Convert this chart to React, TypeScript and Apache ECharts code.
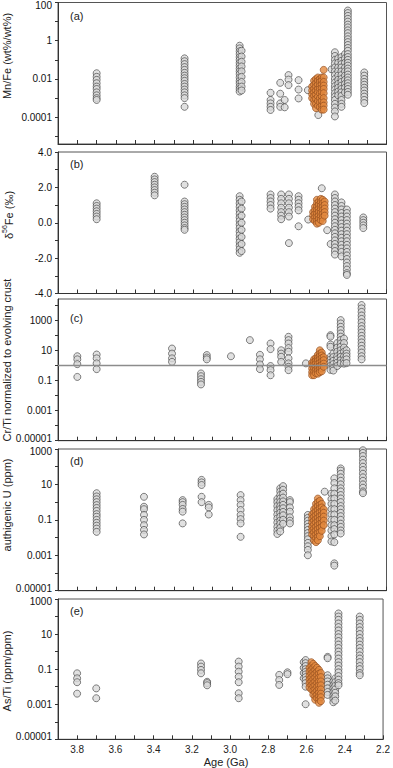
import { useEffect, useRef } from "react";
import * as echarts from "echarts";

type Col = [number, number[]];

// ---------- (a) Mn/Fe (wt%/wt%) ----------
const mnFeGray: Col[] = [
  [3.7, [0.02, 0.013, 0.009, 0.006, 0.004, 0.003, 0.002, 0.0014, 0.001, 0.0008]],
  [3.245, [0.12, 0.085, 0.06, 0.042, 0.03, 0.021, 0.015, 0.011, 0.008, 0.0055, 0.004, 0.0028, 0.002, 0.0014, 0.001, 0.00035]],
  [2.96, [0.55, 0.4, 0.28, 0.2, 0.14, 0.1, 0.07, 0.05, 0.035, 0.025, 0.018, 0.012, 0.008, 0.006, 0.004, 0.003, 0.0022]],
  [2.95, [0.3, 0.15, 0.08, 0.045, 0.025, 0.013, 0.007, 0.004, 0.0025]],
  [2.8, [0.0019, 0.0008, 0.00053, 0.00035, 0.00024]],
  [2.75, [0.0063, 0.0017, 0.00053, 0.00035]],
  [2.727, [0.0008, 0.00033]],
  [2.707, [0.016, 0.0093, 0.0048]],
  [2.655, [0.0087, 0.0028, 0.00096]],
  [2.607, [0.0026]],
  [2.553, [0.00013]],
  [2.484, [0.032]],
  [2.467, [0.25, 0.16, 0.1, 0.065, 0.04, 0.025, 0.016, 0.01, 0.0065, 0.0042, 0.0028, 0.0018, 0.0012, 0.0008, 0.0005, 0.00032, 0.0002, 0.00011]],
  [2.45, [0.12, 0.07, 0.04, 0.025, 0.015, 0.009, 0.0055, 0.0035, 0.0022, 0.0014]],
  [2.433, [0.14, 0.09, 0.06, 0.04, 0.025, 0.016, 0.01, 0.007, 0.0045, 0.003, 0.002, 0.0013, 0.0008, 0.0005, 0.00035]],
  [2.415, [0.2, 0.12, 0.07, 0.04, 0.025, 0.015, 0.009, 0.0055, 0.0035, 0.002]],
  [2.4, [38, 28, 20, 14, 10, 7, 5, 3.5, 2.5, 1.7, 1.2, 0.85, 0.6, 0.42, 0.3, 0.2, 0.14, 0.1, 0.07, 0.05, 0.035, 0.025, 0.017, 0.012, 0.0085, 0.006, 0.0042, 0.003, 0.0021, 0.0015]],
  [2.315, [0.022, 0.015, 0.01, 0.007, 0.005, 0.0035, 0.0025, 0.0017, 0.0012, 0.0008, 0.00055]],
];
const mnFeOrange: Col[] = [
  [2.585, [0.004, 0.0025, 0.0016, 0.001]],
  [2.575, [0.008, 0.005, 0.003, 0.002, 0.0013, 0.0008, 0.0005]],
  [2.565, [0.01, 0.006, 0.004, 0.0025, 0.0015, 0.0009, 0.0005, 0.0003]],
  [2.555, [0.012, 0.008, 0.005, 0.003, 0.002, 0.0012, 0.0007, 0.0004]],
  [2.545, [0.01, 0.007, 0.0045, 0.003, 0.0018, 0.001, 0.0006, 0.00035]],
  [2.535, [0.012, 0.008, 0.005, 0.0032, 0.002, 0.0012, 0.0007, 0.0004, 0.00025]],
  [2.525, [0.03, 0.012, 0.007, 0.0045, 0.003, 0.0018, 0.001, 0.0006, 0.0004, 0.00025]],
];

// ---------- (b) δ56Fe (‰) ----------
const feIsoGray: Col[] = [
  [3.7, [1.1, 0.95, 0.8, 0.65, 0.5, 0.35, 0.2]],
  [3.4, [2.6, 2.45, 2.3, 2.15, 2.0, 1.85, 1.7, 1.55]],
  [3.245, [2.15, 1.2, 1.05, 0.9, 0.75, 0.6, 0.45, 0.3, 0.15, 0.0, -0.15, -0.3, -0.4]],
  [2.96, [1.5, 1.3, 1.1, 0.9, 0.7, 0.5, 0.3, 0.1, -0.1, -0.3, -0.5, -0.7, -0.9, -1.1, -1.3, -1.5, -1.7]],
  [2.95, [1.2, 0.8, 0.4, 0.0, -0.4, -0.8, -1.2, -1.6]],
  [2.8, [1.6, 1.4, 1.2, 1.0, 0.8]],
  [2.745, [1.6, 1.35, 1.1, 0.85, 0.6, 0.4, 0.2]],
  [2.705, [1.6, 1.35, 1.1, 0.85, 0.6, 0.35, -1.15]],
  [2.655, [1.5, 1.3, 1.1, 0.9, 0.7, -0.2]],
  [2.605, [0.18]],
  [2.535, [1.95]],
  [2.507, [-0.42]],
  [2.489, [-1.2]],
  [2.467, [1.6, 1.4, 1.2, 1.0, 0.8, 0.6, 0.4, 0.2, 0.0, -0.2, -0.4, -0.6, -0.8, -1.0, -1.2, -1.4, -1.6, -1.8]],
  [2.433, [1.15, 0.95, 0.75, 0.55, 0.35, 0.15, -0.05, -0.25, -0.45, -0.65, -0.85, -1.05, -1.25, -1.45, -1.65, -1.9]],
  [2.405, [0.75, 0.55, 0.35, 0.15, -0.05, -0.25, -0.45, -0.65, -0.85, -1.05, -1.25, -1.45, -1.65, -1.85, -2.05, -2.25, -2.45, -2.65, -2.85, -2.95]],
  [2.32, [0.3, 0.15, 0.0, -0.15, -0.3]],
];
const feIsoOrange: Col[] = [
  [2.58, [0.6, 0.4, 0.2]],
  [2.57, [0.9, 0.7, 0.5, 0.3, 0.1]],
  [2.56, [1.3, 1.1, 0.9, 0.7, 0.5, 0.3, 0.1, -0.05]],
  [2.55, [1.2, 1.0, 0.8, 0.6, 0.4, 0.2, 0.0]],
  [2.54, [1.35, 1.15, 0.95, 0.75, 0.55, 0.35, 0.15]],
  [2.53, [1.3, 1.1, 0.9, 0.7, 0.5, 0.3, 0.1]],
  [2.52, [1.2, 1.0, 0.8, 0.6, 0.4]],
];

// ---------- (c) Cr/Ti normalized to evolving crust ----------
const crTiGray: Col[] = [
  [3.8, [4, 2.5, 1.2, 0.17]],
  [3.7, [5.2, 2.9, 1.35, 0.56]],
  [3.31, [13, 6, 2.9, 1.7]],
  [3.16, [0.29, 0.19, 0.12, 0.08, 0.054]],
  [3.13, [4.8, 3.3, 2.5]],
  [3.005, [4]],
  [2.907, [47]],
  [2.855, [5, 2.5, 1.15, 0.56]],
  [2.8, [28, 12, 0.9, 0.48, 0.22]],
  [2.745, [10, 6, 3.7, 1.7]],
  [2.707, [78, 47, 28, 14, 8, 2.9, 1.35, 0.8, 0.48]],
  [2.617, [1.35]],
  [2.49, [100, 80, 24, 17, 3.7, 2.4, 1.5, 0.9, 0.5]],
  [2.475, [6, 3.5, 2, 1.2, 0.7, 0.45]],
  [2.455, [30, 15, 8, 4, 2.5, 1.5, 0.9]],
  [2.437, [1000, 600, 360, 220, 130, 80, 48, 28, 17, 10, 6, 3.7, 2.2, 1.35]],
  [2.42, [60, 30, 15, 8, 4, 2.2, 1.3]],
  [2.407, [10, 6, 4, 2.5, 1.4]],
  [2.329, [10000, 6000, 3500, 2000, 1200, 700, 400, 250, 150, 90, 55, 33, 20, 12, 7, 4, 2.5]],
];
const crTiOrange: Col[] = [
  [2.585, [1.5, 1.0, 0.6, 0.35, 0.22]],
  [2.575, [2.5, 1.6, 1.0, 0.6, 0.35, 0.22]],
  [2.565, [3, 2, 1.3, 0.8, 0.5, 0.3]],
  [2.555, [5, 3, 2, 1.2, 0.7, 0.45, 0.28]],
  [2.545, [10, 6, 4, 2.5, 1.5, 0.9, 0.55, 0.35]],
  [2.535, [7, 4.5, 3, 1.8, 1.1, 0.65, 0.4]],
  [2.525, [3.5, 2.2, 1.3, 0.8]],
];
const crTiReference = [1];

// ---------- (d) authigenic U (ppm) ----------
const uAuthGray: Col[] = [
  [3.7, [3.2, 2.1, 1.45, 1.0, 0.68, 0.47, 0.32, 0.21, 0.15, 0.1, 0.068, 0.047, 0.032, 0.021]],
  [3.455, [2.0, 0.55, 0.4, 0.19, 0.1, 0.05, 0.027, 0.015]],
  [3.255, [1.3, 1.0, 0.7, 0.41, 0.29, 0.063]],
  [3.157, [18, 13, 9.3, 2.0, 1.0]],
  [3.12, [0.7, 0.5, 0.2]],
  [2.955, [2.5, 1.3, 0.7, 0.36, 0.19, 0.11, 0.063, 0.011]],
  [2.765, [1.5, 1.0, 0.6, 0.35, 0.2, 0.12, 0.07, 0.04, 0.025, 0.016]],
  [2.75, [6, 4, 2.5, 1.6, 1.0, 0.6, 0.4, 0.25, 0.15, 0.09, 0.06, 0.035, 0.022]],
  [2.735, [8, 5, 3, 1.8, 1.1, 0.7, 0.45, 0.28, 0.18, 0.1, 0.06]],
  [2.7, [1.3, 1.0, 0.5, 0.29, 0.14, 0.09, 0.063]],
  [2.607, [0.19, 0.13, 0.09, 0.06, 0.04, 0.027, 0.018, 0.012, 0.008, 0.005, 0.0032, 0.002, 0.001]],
  [2.52, [3.9]],
  [2.485, [3, 1.5, 0.8, 0.4, 0.2, 0.1, 0.05, 0.025, 0.012, 0.006]],
  [2.47, [22, 12, 6, 3, 1.6, 0.8, 0.4, 0.2, 0.1, 0.05, 0.03, 0.015, 0.0055, 0.00035, 0.00026]],
  [2.437, [80, 60, 40, 25, 16, 10, 6, 4, 2.5, 1.6, 1.0, 0.6, 0.4, 0.25, 0.16, 0.1, 0.06, 0.04, 0.025, 0.017]],
  [2.322, [850, 600, 400, 250, 160, 100, 65, 40, 25, 16, 10, 6.5, 4, 3.2]],
];
const uAuthOrange: Col[] = [
  [2.585, [0.2, 0.12, 0.07, 0.04, 0.025, 0.015]],
  [2.575, [0.4, 0.25, 0.15, 0.09, 0.055, 0.033, 0.02, 0.012, 0.007]],
  [2.565, [0.8, 0.5, 0.3, 0.18, 0.11, 0.07, 0.04, 0.025, 0.015, 0.009, 0.0055]],
  [2.555, [1.6, 1.0, 0.6, 0.35, 0.22, 0.13, 0.08, 0.05, 0.03, 0.018, 0.011, 0.007]],
  [2.545, [1.2, 0.7, 0.45, 0.27, 0.16, 0.1, 0.06, 0.035, 0.02, 0.012]],
  [2.535, [0.8, 0.5, 0.3, 0.18, 0.11, 0.065, 0.04, 0.024]],
  [2.525, [0.4, 0.25, 0.15, 0.09, 0.05]],
];

// ---------- (e) As/Ti (ppm/ppm) ----------
const asTiGray: Col[] = [
  [3.8, [0.058, 0.03, 0.018, 0.004]],
  [3.7, [0.008, 0.0022]],
  [3.152, [0.21, 0.14, 0.09, 0.058]],
  [3.12, [0.019, 0.016, 0.012]],
  [2.955, [0.27, 0.14, 0.072, 0.037, 0.018, 0.0042, 0.0022]],
  [2.743, [0.047, 0.024, 0.0126]],
  [2.7, [0.066, 0.052]],
  [2.615, [0.25, 0.12, 0.06, 0.03]],
  [2.605, [0.33, 0.22, 0.15, 0.1, 0.07, 0.05, 0.035, 0.024, 0.016, 0.01, 0.001]],
  [2.49, [0.5, 0.42, 0.045, 0.03, 0.02, 0.013, 0.008, 0.005, 0.0034]],
  [2.46, [0.02, 0.012, 0.008, 0.005, 0.003, 0.002, 0.0013]],
  [2.45, [0.03, 0.018, 0.011, 0.007, 0.0045, 0.0028, 0.0016]],
  [2.433, [150, 100, 65, 40, 25, 16, 10, 6.5, 4, 2.5, 1.6, 1.0, 0.65, 0.4, 0.25, 0.16, 0.1, 0.065, 0.04, 0.025, 0.016, 0.012]],
  [2.322, [100, 65, 40, 25, 16, 10, 6, 4, 2.5, 1.6, 1.0, 0.6, 0.4, 0.25, 0.15, 0.1, 0.06, 0.045]],
];
const asTiOrange: Col[] = [
  [2.585, [0.12, 0.07, 0.04, 0.025, 0.015, 0.009]],
  [2.575, [0.25, 0.15, 0.09, 0.055, 0.033, 0.02, 0.012, 0.007]],
  [2.565, [0.2, 0.12, 0.07, 0.045, 0.027, 0.016, 0.01, 0.006, 0.0035]],
  [2.555, [0.15, 0.09, 0.055, 0.033, 0.02, 0.012, 0.007, 0.0045, 0.0028, 0.0018]],
  [2.545, [0.12, 0.07, 0.045, 0.027, 0.016, 0.01, 0.006, 0.0035, 0.0022]],
  [2.535, [0.09, 0.055, 0.033, 0.02, 0.012, 0.007, 0.0045, 0.0028, 0.0018, 0.0012]],
  [2.525, [0.06, 0.035, 0.02, 0.012, 0.007, 0.004, 0.0025, 0.0015]],
];

// ---------- tick labels ----------
const ageLabels = [3.8, 3.6, 3.4, 3.2, 3.0, 2.8, 2.6, 2.4, 2.2];
const ageTicks = [3.8, 3.7, 3.6, 3.5, 3.4, 3.3, 3.2, 3.1, 3.0, 2.9, 2.8, 2.7, 2.6, 2.5, 2.4, 2.3, 2.2];
const mnFeLabels = [100, 1, 0.01, 0.0001];
const logLabels = [1000, 10, 0.1, 0.001, 0.00001];
const feIsoLabels = [4, 2, 0, -2, -4];

const FONT = '"Liberation Sans", Arial, sans-serif';
const GRAY = { color: "#d9d9d9", borderColor: "#3c3c3c", borderWidth: 0.8 };
const ORANGE = { color: "#e3893f", borderColor: "#8e4a1c", borderWidth: 0.8 };

const flat = (cols: Col[], f: (v: number) => number) =>
  cols.flatMap(([age, vals]) => vals.map((v) => [age, f(v)]));

const lg = (v: number) => Math.log10(v);
const id = (v: number) => v;

const fmtLog = (min: number, max: number) => (v: number) => {
  const p = Math.round(v);
  const n = Math.pow(10, p);
  const s = p >= 0 ? String(n) : n.toFixed(-p);
  if (Math.abs(v - min) < 1e-9) return `{b|${s}}`;
  if (Math.abs(v - max) < 1e-9) return `{t|${s}}`;
  return s;
};

const panels = [
  { top: 2, height: 142, min: -5.4, max: 2, log: true, labels: mnFeLabels, gray: mnFeGray, orange: mnFeOrange },
  { top: 152, height: 141.5, min: -4, max: 4, log: false, labels: feIsoLabels, gray: feIsoGray, orange: feIsoOrange },
  { top: 299, height: 141.7, min: -5, max: 4.4, log: true, labels: logLabels, gray: crTiGray, orange: crTiOrange },
  { top: 449, height: 141.7, min: -5, max: 3, log: true, labels: logLabels, gray: uAuthGray, orange: uAuthOrange },
  { top: 599, height: 140.3, min: -5, max: 3, log: true, labels: logLabels, gray: asTiGray, orange: asTiOrange },
];

const intRange = (a: number, b: number) => {
  const r: number[] = [];
  for (let i = Math.ceil(a); i <= Math.floor(b); i++) r.push(i);
  return r;
};

export default function App() {
  const ref = useRef<HTMLDivElement>(null);

  useEffect(() => {
    document.body.style.margin = "0";
    if (!ref.current) return;
    const chart = echarts.init(ref.current, undefined, { renderer: "svg" });

    const grid = panels.map((p) => ({
      left: 58,
      right: 6.5,
      top: p.top,
      height: p.height,
      show: true,
      borderColor: "#555",
      borderWidth: 1,
      backgroundColor: "transparent",
    }));

    const xAxis = panels.map((_, i) => ({
      type: "value",
      gridIndex: i,
      min: 2.2,
      max: 3.9,
      inverse: true,
      axisLine: { show: true, onZero: false, lineStyle: { color: "#333", width: 1 } },
      axisTick: {
        show: true,
        inside: true,
        length: 4,
        customValues: ageTicks,
        lineStyle: { color: "#333" },
      },
      axisLabel: {
        show: i === 4,
        customValues: ageLabels,
        formatter: (v: number) => v.toFixed(1),
        fontSize: 10,
        color: "#222",
        fontFamily: FONT,
        margin: 5,
      },
      splitLine: { show: false },
    }));

    const yAxis = panels.map((p, i) => ({
      type: "value",
      gridIndex: i,
      min: p.min,
      max: p.max,
      axisLine: { show: true, onZero: false, lineStyle: { color: "#333", width: 1 } },
      axisTick: {
        show: true,
        length: 3,
        customValues: intRange(p.min, p.max),
        lineStyle: { color: "#333" },
      },
      axisLabel: {
        customValues: p.log ? p.labels.map(lg) : p.labels,
        formatter: p.log ? fmtLog(p.min, p.max) : (v: number) => v.toFixed(1),
        fontSize: 10,
        color: "#111",
        fontFamily: FONT,
        margin: 6,
        rich: {
          b: { fontSize: 10, fontFamily: FONT, color: "#111", padding: [0, 0, 5, 0] },
          t: { fontSize: 10, fontFamily: FONT, color: "#111", padding: [5, 0, 0, 0] },
        },
      },
      splitLine: { show: false },
    }));

    const series: any[] = [];
    panels.forEach((p, i) => {
      const f = p.log ? lg : id;
      const g: any = {
        type: "scatter",
        xAxisIndex: i,
        yAxisIndex: i,
        symbol: "circle",
        symbolSize: 7,
        itemStyle: GRAY,
        data: flat(p.gray, f),
        silent: true,
      };
      if (i === 2) {
        g.markLine = {
          silent: true,
          symbol: "none",
          label: { show: false },
          lineStyle: { color: "#8c8c8c", width: 1.3, type: "solid" },
          data: crTiReference.map((v) => ({ yAxis: lg(v) })),
        };
      }
      series.push(g);
      series.push({
        type: "scatter",
        xAxisIndex: i,
        yAxisIndex: i,
        symbol: "circle",
        symbolSize: 7,
        itemStyle: ORANGE,
        data: flat(p.orange, f),
        silent: true,
      });
    });

    const nameStyle = { fontSize: 11, fontFamily: FONT, fill: "#222", align: "center", verticalAlign: "middle", textAlign: "center", textVerticalAlign: "middle" };
    const names = [
      { text: "Mn/Fe (wt%/wt%)", y: 56 },
      { text: "Cr/Ti normalized to evolving crust", y: 360 },
      { text: "authigenic U (ppm)", y: 505 },
      { text: "As/Ti (ppm/ppm)", y: 671 },
    ];
    const letters = [
      { text: "(a)", y: 16 },
      { text: "(b)", y: 164 },
      { text: "(c)", y: 317.5 },
      { text: "(d)", y: 461 },
      { text: "(e)", y: 611 },
    ];

    const graphic: any[] = [
      ...names.map((n) => ({
        type: "text",
        x: 7,
        y: n.y,
        rotation: Math.PI / 2,
        style: { ...nameStyle, text: n.text },
      })),
      {
        type: "text",
        x: 7.5,
        y: 215,
        rotation: Math.PI / 2,
        style: {
          ...nameStyle,
          text: "{d|δ}{s|56}{d|Fe (‰)}",
          rich: {
            d: { fontSize: 11, fontFamily: FONT, fill: "#222", lineHeight: 14, verticalAlign: "bottom" },
            s: { fontSize: 7, fontFamily: FONT, fill: "#222", lineHeight: 14, verticalAlign: "top" },
          },
        },
      },
      ...letters.map((l) => ({
        type: "text",
        x: 70,
        y: l.y,
        style: { fontSize: 11, fontFamily: FONT, fill: "#222", text: l.text, align: "left", verticalAlign: "middle", textAlign: "left", textVerticalAlign: "middle" },
      })),
      {
        type: "text",
        x: 226,
        y: 762,
        style: { ...nameStyle, text: "Age (Ga)" },
      },
    ];

    chart.setOption({
      animation: false,
      backgroundColor: "#ffffff",
      grid,
      xAxis,
      yAxis,
      series,
      graphic,
    } as any);

    return () => chart.dispose();
  }, []);

  return <div ref={ref} style={{ width: 393, height: 768 }} />;
}
